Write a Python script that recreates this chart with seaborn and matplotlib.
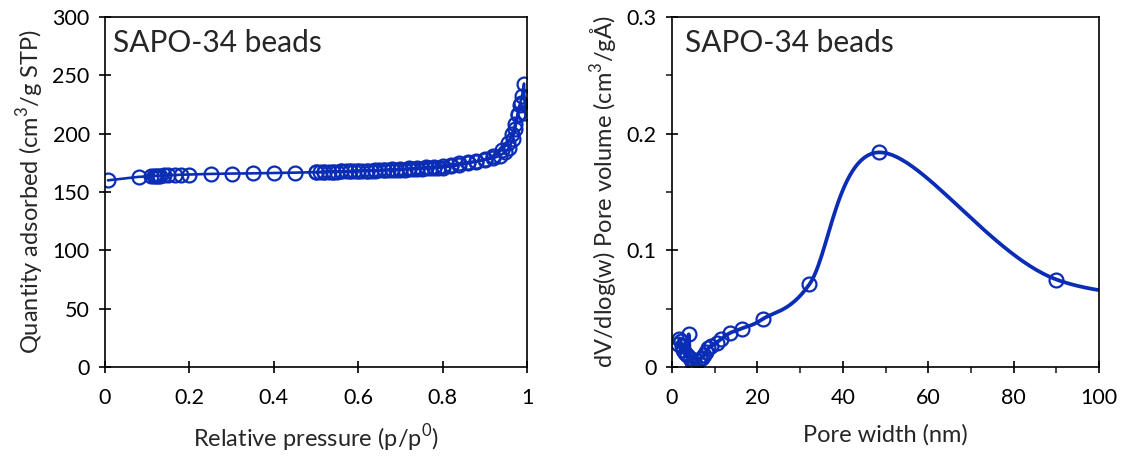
import numpy as np
import pandas as pd
import matplotlib
matplotlib.use("Agg")
import matplotlib.pyplot as plt
import seaborn as sns

# ---------------- data ----------------
# Isotherm (adsorption then desorption branch)
p_ads = [0.007, 0.08, 0.11, 0.115, 0.12, 0.125, 0.13, 0.14, 0.15, 0.165, 0.18, 0.2,
         0.25, 0.3, 0.35, 0.4, 0.45, 0.5, 0.51, 0.52, 0.53, 0.54, 0.55, 0.56, 0.57,
         0.58, 0.59, 0.6, 0.61, 0.62, 0.63, 0.64, 0.65, 0.66, 0.67, 0.68, 0.69, 0.7,
         0.71, 0.72, 0.73, 0.74, 0.75, 0.76, 0.77, 0.78, 0.79, 0.8, 0.82, 0.84, 0.86,
         0.88, 0.9, 0.92, 0.94, 0.955, 0.965, 0.972, 0.978, 0.983, 0.988, 0.993]
q_ads = [160.0, 163.0, 163.5, 163.6, 163.8, 164.0, 164.0, 164.2, 164.4, 164.6, 164.8, 165.0,
         165.5, 165.8, 166.0, 166.3, 166.6, 167.0, 167.1, 167.2, 167.3, 167.4, 167.5, 167.6, 167.7,
         167.8, 167.9, 168.0, 168.1, 168.2, 168.3, 168.4, 168.5, 168.6, 168.7, 168.8, 168.9, 169.0,
         169.2, 169.4, 169.6, 169.8, 170.0, 170.2, 170.4, 170.6, 170.8, 171.0, 172.0, 173.0, 174.5,
         176.0, 178.0, 181.0, 186.0, 192.0, 200.0, 208.0, 216.0, 225.0, 232.0, 243.0]
p_des = [0.995, 0.985, 0.978, 0.972, 0.966, 0.958, 0.948, 0.935, 0.92, 0.9, 0.88,
         0.86, 0.84, 0.82, 0.8, 0.78, 0.76, 0.74, 0.72, 0.7, 0.68, 0.66, 0.64,
         0.62, 0.6, 0.58, 0.56, 0.54, 0.52, 0.5]
q_des = [218.0, 226.0, 217.0, 204.0, 195.0, 188.0, 184.0, 181.0, 179.0, 177.5, 176.5,
         175.5, 174.5, 173.5, 172.5, 171.8, 171.2, 170.7, 170.2, 169.8, 169.4, 169.0, 168.7,
         168.4, 168.1, 167.8, 167.6, 167.4, 167.2, 167.0]

# Pore size distribution
w_nm = [1.5, 1.7, 2.0, 2.3, 2.6, 3.0, 3.5, 3.9, 4.2, 4.6, 5.0, 5.5, 6.0, 6.5, 7.0,
        7.5, 8.0, 8.5, 9.2, 10.5, 11.5, 13.5, 16.3, 21.2, 32.2, 48.5, 90.0, 140.0]
dv = [0.020, 0.024, 0.022, 0.018, 0.015, 0.012, 0.010, 0.028, 0.008, 0.004, 0.002, 0.003,
      0.005, 0.007, 0.008, 0.010, 0.013, 0.016, 0.018, 0.021, 0.024, 0.029, 0.033, 0.041,
      0.071, 0.184, 0.075, 0.060]

xticks_left = [0, 0.2, 0.4, 0.6, 0.8, 1]
xticklabels_left = ["0", "0.2", "0.4", "0.6", "0.8", "1"]
yticks_left = [0, 50, 100, 150, 200, 250, 300]
xticks_right = [0, 20, 40, 60, 80, 100]
yticks_right = [0, 0.1, 0.2, 0.3]
yticklabels_right = ["0", "0.1", "0.2", "0.3"]

COLOR = "#0b2db5"

sns.set_style("ticks")
plt.rcParams["font.family"] = ["Lato", "DejaVu Sans"]


def smooth_curve(x, y, xr, yr, n=30):
    """Catmull-Rom rendering of the line (as a spreadsheet 'smoothed line')."""
    P = np.column_stack([np.asarray(x) / xr, np.asarray(y) / yr])
    P = np.vstack([P[0], P, P[-1]])
    out = []
    t = np.linspace(0, 1, n, endpoint=False)[:, None]
    for i in range(1, len(P) - 2):
        p0, p1, p2, p3 = P[i - 1], P[i], P[i + 1], P[i + 2]
        seg = 0.5 * ((2 * p1) + (-p0 + p2) * t + (2 * p0 - 5 * p1 + 4 * p2 - p3) * t ** 2
                     + (-p0 + 3 * p1 - 3 * p2 + p3) * t ** 3)
        out.append(seg)
    out.append(P[-2][None, :])
    S = np.vstack(out)
    return S[:, 0] * xr, S[:, 1] * yr


fig = plt.figure(figsize=(11.23, 4.57), dpi=100)
ax1 = fig.add_axes([105 / 1123, 1 - 367 / 457, 422 / 1123, 350 / 457])
ax2 = fig.add_axes([672 / 1123, 1 - 367 / 457, 427 / 1123, 350 / 457])

MS = 10
LABEL_FS = 17
TICK_FS = 15.5
TITLE_FS = 21.5
# ---- left: isotherm ----
iso = pd.DataFrame({"p": p_ads + p_des, "q": q_ads + q_des})
sns.lineplot(data=iso, x="p", y="q", sort=False, estimator=None, ax=ax1,
             color=COLOR, lw=1.9, marker="o", markersize=MS,
             markerfacecolor="none", markeredgecolor=COLOR, markeredgewidth=1.6)
ax1.set_xlim(0, 1)
ax1.set_ylim(0, 300)
ax1.set_xticks(xticks_left)
ax1.set_xticklabels(xticklabels_left)
ax1.set_yticks(yticks_left)
ax1.set_xlabel("Relative pressure (p/p$^{\\mathregular{0}}$)", fontsize=LABEL_FS, labelpad=10)
ax1.set_ylabel("Quantity adsorbed (cm$^{\\mathregular{3}}$/g STP)", fontsize=LABEL_FS, labelpad=5)
ax1.text(0.02, 0.965, "SAPO-34 beads", transform=ax1.transAxes, fontsize=TITLE_FS,
         ha="left", va="top")

# ---- right: pore size distribution ----
sx, sy = smooth_curve(w_nm, dv, 100.0, 0.3)
curve = pd.DataFrame({"w": sx, "dv": sy})
sns.lineplot(data=curve, x="w", y="dv", sort=False, estimator=None, ax=ax2,
             color=COLOR, lw=2.7)
pts = pd.DataFrame({"w": w_nm[:-1], "dv": dv[:-1]})
sns.lineplot(data=pts, x="w", y="dv", sort=False, estimator=None, ax=ax2,
             color=COLOR, linestyle="", marker="o", markersize=MS,
             markerfacecolor="none", markeredgecolor=COLOR, markeredgewidth=1.6)
ax2.set_xlim(0, 100)
ax2.set_ylim(0, 0.3)
ax2.set_xticks(xticks_right)
ax2.set_xticks([10, 30, 50, 70, 90], minor=True)
ax2.set_yticks(yticks_right)
ax2.set_yticklabels(yticklabels_right)
ax2.set_yticks([0.05, 0.15, 0.25], minor=True)
ax2.set_xlabel("Pore width (nm)", fontsize=LABEL_FS, labelpad=12)
ax2.set_ylabel("dV/dlog(w) Pore volume (cm$^{\\mathregular{3}}$/gÅ)", fontsize=LABEL_FS, labelpad=5)
ax2.text(0.03, 0.965, "SAPO-34 beads", transform=ax2.transAxes, fontsize=TITLE_FS,
         ha="left", va="top")

for ax in (ax1, ax2):
    for s in ax.spines.values():
        s.set_visible(True)
        s.set_color("black")
        s.set_linewidth(1.2)
    ax.tick_params(which="major", direction="inout", length=8, width=1.2,
                   labelsize=TICK_FS, colors="black", pad=7)
    ax.tick_params(axis="x", which="major", pad=11)
    ax.tick_params(which="minor", direction="out", length=4, width=1.2)

fig.savefig("out.png", dpi=100)
